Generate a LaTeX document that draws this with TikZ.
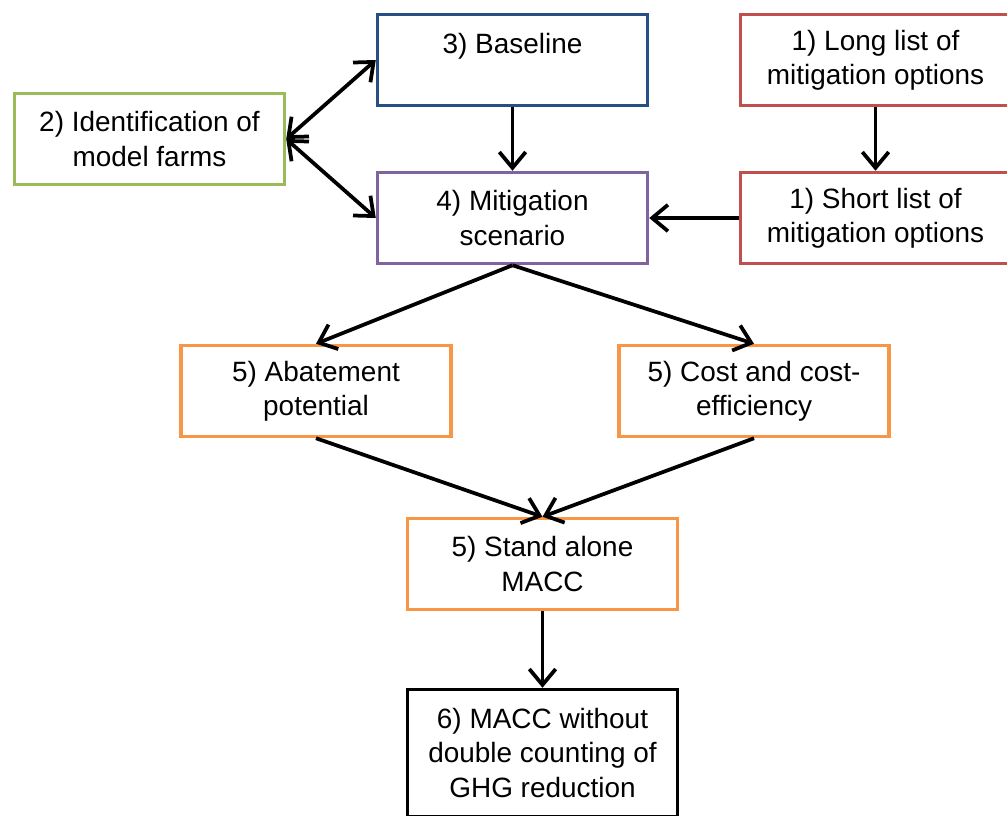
\documentclass[tikz,border=0pt]{standalone}
\usepackage{fontspec}
\setmainfont{Liberation Sans}
\usepackage{xcolor}
\usepackage{tikz}
\usetikzlibrary{arrows.meta}
\definecolor{baseblue}{HTML}{254F85}
\definecolor{listred}{HTML}{C0504D}
\definecolor{farmgreen}{HTML}{9BBB59}
\definecolor{scenpurple}{HTML}{8064A2}
\definecolor{maccorange}{HTML}{F79646}

\begin{document}
\begin{tikzpicture}[x=0.02cm,y=-0.02cm,>={Straight Barb[length=9pt,width=15pt]},
stagebox/.style={draw,line width=0.07cm,minimum width=5.4cm,minimum height=1.82cm,inner sep=0pt,align=center,font=\fontsize{15.9}{19.4}\selectfont},
flow/.style={->,line width=0.075cm}]
\clip(0,0)rectangle(1007,815);
\node[stagebox,draw=baseblue](base)at(512.5,60){3) Baseline\\\mbox{}};
\node[stagebox,draw=listred](long)at(875.5,60){1) Long list of\\mitigation options};
\node[stagebox,draw=farmgreen](ident)at(149.5,139){2) Identification of\\model farms};
\node[stagebox,draw=scenpurple](mitig)at(512.5,218){4) Mitigation\\scenario};
\node[stagebox,draw=listred](short)at(875.5,218){1) Short list of\\mitigation options};
\node[stagebox,draw=maccorange](abat)at(316,391){5) Abatement\\potential};
\node[stagebox,draw=maccorange](cost)at(754,391){5) Cost and cost-\\efficiency};
\node[stagebox,draw=maccorange](stand)at(542.5,564){5) Stand alone\\MACC};
\node[stagebox,draw=black,minimum height=2.54cm](macc)at(542.5,753){6) MACC without\\double counting of\\GHG reduction};
\draw[flow](base)--(mitig);
\draw[flow](long)--(short);
\draw[flow](short)--(mitig);
\draw[flow,<->](ident.east)--(base.west);
\draw[flow,<->](ident.east)--(mitig.west);
\draw[flow](mitig.south)--(abat.north);
\draw[flow](mitig.south)--(cost.north);
\draw[flow](abat.south)--(stand.north);
\draw[flow](cost.south)--(stand.north);
\draw[flow](stand)--(macc);
\end{tikzpicture}
\end{document}
